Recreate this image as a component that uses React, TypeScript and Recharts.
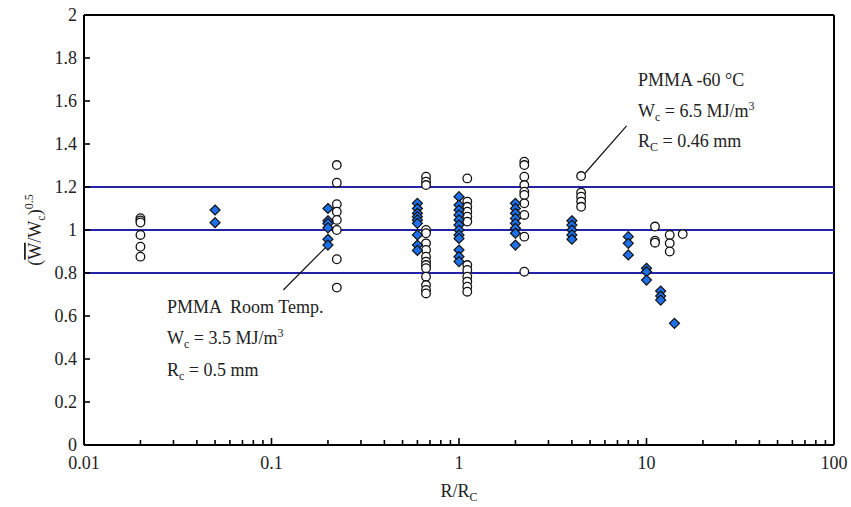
import { ScatterChart, Scatter, XAxis, YAxis, ReferenceLine } from 'recharts';

// room temperature runs (filled diamonds): [R/Rc, values...]
const roomTemp: [number, number[]][] = [
  [0.05, [1.093, 1.034]],
  [0.2, [1.1, 1.043, 1.03, 1.01, 0.957, 0.93]],
  [0.6, [1.124, 1.1, 1.078, 1.062, 1.047, 1.031, 0.977, 0.93, 0.905]],
  [1.0, [1.155, 1.116, 1.093, 1.07, 1.047, 1.023, 1.0, 0.977, 0.961, 0.907, 0.876, 0.853]],
  [2.0, [1.124, 1.1, 1.078, 1.054, 1.031, 1.008, 0.985, 0.93]],
  [4.0, [1.043, 1.023, 1.0, 0.977, 0.957]],
  [8.0, [0.969, 0.938, 0.884]],
  [10, [0.822, 0.806, 0.767]],
  [11.9, [0.716, 0.693, 0.674]],
  [14.1, [0.566]],
];

// -60 C runs (open circles)
const minus60: [number, number[]][] = [
  [0.02, [1.055, 1.045, 1.035, 0.977, 0.922, 0.876]],
  [0.223, [1.302, 1.22, 1.12, 1.085, 1.047, 1.0, 0.864, 0.732]],
  [0.667, [1.248, 1.225, 1.209, 1.0, 0.985, 0.938, 0.907, 0.876, 0.853, 0.837, 0.822, 0.783, 0.744, 0.721, 0.705]],
  [1.107, [1.24, 1.132, 1.108, 1.085, 1.062, 1.039, 0.837, 0.814, 0.783, 0.76, 0.736, 0.713]],
  [2.23, [1.318, 1.302, 1.248, 1.209, 1.178, 1.163, 1.124, 1.07, 0.969, 0.806]],
  [4.48, [1.251, 1.174, 1.155, 1.132, 1.108]],
  [11.1, [1.016, 0.95, 0.941]],
  [13.3, [0.977, 0.938, 0.9]],
  [15.6, [0.981]],
];

const xTicks = [
  0.01, 0.02, 0.03, 0.04, 0.05, 0.06, 0.07, 0.08, 0.09,
  0.1, 0.2, 0.3, 0.4, 0.5, 0.6, 0.7, 0.8, 0.9,
  1, 2, 3, 4, 5, 6, 7, 8, 9,
  10, 20, 30, 40, 50, 60, 70, 80, 90,
  100,
];
const xMajor = [0.01, 0.1, 1, 10, 100];
const xLabels = ['0.01', '0.1', '1', '10', '100'];
const yTicks = [0, 0.2, 0.4, 0.6, 0.8, 1, 1.2, 1.4, 1.6, 1.8, 2];
const yLabels = ['0', '0.2', '0.4', '0.6', '0.8', '1', '1.2', '1.4', '1.6', '1.8', '2'];
const bands = [0.8, 1, 1.2];

const FONT = '"Liberation Serif", "DejaVu Serif", serif';
const TICK_MARGIN = 6;

const flat = (cols: [number, number[]][]) =>
  cols.flatMap(([x, ys]) => ys.map(y => ({ x, y })));

const YTick = (props: any) => {
  const { x, y, payload } = props;
  const i = yTicks.indexOf(payload.value);
  const ax = x + TICK_MARGIN;
  return (
    <g>
      <line x1={ax} x2={ax + 6} y1={y} y2={y} stroke="#000" strokeWidth={1.6} />
      <text x={x - 1} y={y} dy="0.355em" textAnchor="end" fontFamily={FONT} fontSize={18} fill="#222">
        {i >= 0 ? yLabels[i] : ''}
      </text>
    </g>
  );
};

const XTick = (props: any) => {
  const { x, y, payload } = props;
  const i = xMajor.indexOf(payload.value);
  const ay = y - 10;
  return (
    <g>
      <line x1={x} x2={x} y1={ay} y2={ay - (i >= 0 ? 7 : 5)} stroke="#000" strokeWidth={1.6} />
      {i >= 0 && (
        <text x={x} y={y + 14} textAnchor="middle" fontFamily={FONT} fontSize={18} fill="#222">
          {xLabels[i]}
        </text>
      )}
    </g>
  );
};

const Circle = (props: any) => (
  <circle cx={props.cx} cy={props.cy} r={4.3} fill="#fff" stroke="#111" strokeWidth={1.3} />
);

const Diamond = (props: any) => {
  const { cx, cy } = props;
  const s = 5;
  return (
    <polygon
      points={`${cx},${cy - s} ${cx + s},${cy} ${cx},${cy + s} ${cx - s},${cy}`}
      fill="#1f6fe8"
      stroke="#111"
      strokeWidth={1.2}
    />
  );
};

export default function App() {
  const txt = { fontFamily: FONT, fontSize: 18, fill: '#222' } as const;
  const sub = { fontSize: 12 } as const;
  return (
    <div style={{ position: 'relative', width: 851, height: 507, background: '#fff' }}>
      <style>{'body{margin:0}'}</style>
      <ScatterChart width={851} height={507} margin={{ top: 15, right: 17, bottom: 22, left: 24 }}>
        <XAxis
          type="number"
          dataKey="x"
          scale="log"
          domain={[0.01, 100]}
          allowDataOverflow
          ticks={xTicks}
          interval={0}
          tickSize={0}
          tickMargin={10}
          tickLine={false}
          tick={<XTick />}
          height={40}
          axisLine={{ stroke: '#000', strokeWidth: 2 }}
        />
        <YAxis
          type="number"
          dataKey="y"
          domain={[0, 2]}
          ticks={yTicks}
          interval={0}
          tickSize={0}
          tickMargin={TICK_MARGIN}
          tickLine={false}
          tick={<YTick />}
          width={60}
          axisLine={{ stroke: '#000', strokeWidth: 2 }}
        />
        <ReferenceLine y={2} stroke="#000" strokeWidth={2} />
        <ReferenceLine x={100} stroke="#000" strokeWidth={2} />
        {bands.map(b => (
          <ReferenceLine key={b} y={b} stroke="#2323a8" strokeWidth={2} />
        ))}
        <ReferenceLine segment={[{ x: 4.7, y: 1.264 }, { x: 7.83, y: 1.484 }]} stroke="#111" strokeWidth={1.2} />
        <ReferenceLine segment={[{ x: 0.2, y: 0.93 }, { x: 0.1156, y: 0.721 }]} stroke="#111" strokeWidth={1.2} />
        <Scatter data={flat(minus60)} shape={<Circle />} isAnimationActive={false} />
        <Scatter data={flat(roomTemp)} shape={<Diamond />} isAnimationActive={false} />
      </ScatterChart>
      <svg width={851} height={507} style={{ position: 'absolute', left: 0, top: 0, pointerEvents: 'none' }}>
        <text x={638} y={86} {...txt}>PMMA -60 °C</text>
        <text x={638} y={117} {...txt}>
          W<tspan dy={4} {...sub}>c</tspan>
          <tspan dy={-4}> = 6.5 MJ/m</tspan>
          <tspan dy={-7} {...sub}>3</tspan>
        </text>
        <text x={638} y={147} {...txt}>
          R<tspan dy={4} {...sub}>C</tspan>
          <tspan dy={-4}> = 0.46 mm</tspan>
        </text>
        <text x={167} y={313} style={{ whiteSpace: 'pre' }} {...txt}>{'PMMA  Room Temp.'}</text>
        <text x={167} y={344} {...txt}>
          W<tspan dy={4} {...sub}>c</tspan>
          <tspan dy={-4}> = 3.5 MJ/m</tspan>
          <tspan dy={-7} {...sub}>3</tspan>
        </text>
        <text x={167} y={376} {...txt}>
          R<tspan dy={4} {...sub}>c</tspan>
          <tspan dy={-4}> = 0.5 mm</tspan>
        </text>
        <text x={459} y={497} textAnchor="middle" {...txt}>
          R/R<tspan dy={4} {...sub}>C</tspan>
        </text>
        <text x={41} y={230} textAnchor="middle" transform="rotate(-90 41 230)" {...txt}>
          (<tspan style={{ textDecoration: 'overline' }}>W</tspan>/W<tspan dy={4} {...sub}>c</tspan>
          <tspan dy={-4}>)</tspan>
          <tspan dy={-8} {...sub}>0.5</tspan>
        </text>
      </svg>
    </div>
  );
}
